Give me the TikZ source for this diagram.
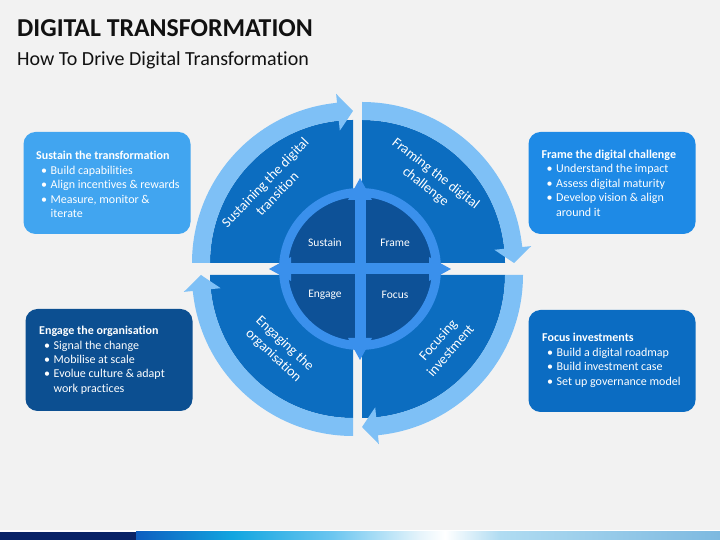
\documentclass[tikz,border=0pt]{standalone}
\usepackage{fontspec}
\setmainfont{Carlito}[Ligatures=NoCommon]
\usetikzlibrary{calc}
\definecolor{bg}{HTML}{F2F2F2}
\definecolor{secdark}{HTML}{0C6DC0}
\definecolor{bandlight}{HTML}{7EC0F6}
\definecolor{innernavy}{HTML}{0D5197}
\definecolor{ringblue}{HTML}{3A90EC}
\definecolor{tlcol}{HTML}{41A5F0}
\definecolor{trcol}{HTML}{1E8AE6}
\definecolor{blcol}{HTML}{0C4F91}
\definecolor{brcol}{HTML}{0B6CC2}
\definecolor{titlecol}{HTML}{111111}
\definecolor{barnavy}{HTML}{0A2468}
\newcommand\bul{\hspace*{5pt}\makebox[9.5pt][l]{\textbullet}}
\newcommand\ind{\hspace*{14.5pt}}
\begin{document}
\begin{tikzpicture}[x=1pt,y=1pt,
  infobox/.style={rounded corners=12pt, inner sep=0pt, minimum width=167pt, minimum height=102pt},
  boxtxt/.style={anchor=base west, inner sep=0pt, text=white, font=\fontsize{12}{14}\selectfont},
  arclabel/.style={align=center, inner sep=0pt, text=white, font=\fontsize{14}{16.5}\selectfont},
  innerlabel/.style={inner sep=0pt, text=white, font=\fontsize{11.5}{14}\selectfont}]
\fill[bg] (0,0) rectangle (720,540);
\useasboundingbox (0,0) rectangle (720,540);

% titles
\node[anchor=base west, inner sep=0pt, text=titlecol, font=\bfseries\fontsize{25.8}{30}\selectfont] (title) at (17,503) {DIGITAL TRANSFORMATION};
\node[anchor=base west, inner sep=0pt, text=titlecol, font=\fontsize{20}{24}\selectfont] (subtitle) at (17,474) {How To Drive Digital Transformation};

% corners
\coordinate (C1) at (353,277);
\coordinate (C2) at (362,277);
\coordinate (C3) at (353,265);
\coordinate (C4) at (362,265);
\coordinate (O) at (360,271);

% quarter sectors
\fill[secdark] (C1) -- ++(180:143) arc[start angle=180, end angle=90, radius=143] -- cycle;
\fill[secdark] (C2) -- ++(90:143) arc[start angle=90, end angle=0, radius=143] -- cycle;
\fill[secdark] (C4) -- ++(0:143) arc[start angle=0, end angle=-90, radius=143] -- cycle;
\fill[secdark] (C3) -- ++(-90:143) arc[start angle=-90, end angle=-180, radius=143] -- cycle;

% curved arrows
\foreach \c/\s in {C1/180, C2/90, C4/0, C3/-90} {
  \pgfmathsetmacro\e{\s-90}
  \pgfmathsetmacro\b{\s-84.3}
  \fill[bandlight] ($(\c)+(\s:161)$) arc[start angle=\s, end angle=\b, radius=161]
    -- ($(\c)+(\b:170)$) -- ($(\c)+(\e:152)$) -- ($(\c)+(\b:133)$)
    -- ($(\c)+(\b:143)$) arc[start angle=\b, end angle=\s, radius=143] -- cycle;
}

% inner circle
\fill[innernavy] (O) circle[radius=76];
\draw[ringblue, line width=9pt] (O) circle[radius=76.5];
\fill[ringblue] ($(O)+(-80,-5.5)$) rectangle ($(O)+(80,5.5)$);
\fill[ringblue] ($(O)+(-5.5,-80)$) rectangle ($(O)+(5.5,80)$);
\foreach \a in {0,90,180,270} {
  \pgfmathsetmacro\pa{\a+90}
  \pgfmathsetmacro\ma{\a-90}
  \fill[ringblue] ($(O)+(\a:91)$) -- ($(O)+(\a:69)+(\pa:12)$) -- ($(O)+(\a:69)+(\ma:12)$) -- cycle;
}

% inner labels
\node[innerlabel] (sustain) at (325,297) {Sustain};
\node[innerlabel] (frame) at (395,297) {Frame};
\node[innerlabel] (engage) at (325,245) {Engage};
\node[innerlabel] (focus) at (395,245) {Focus};

% arc labels
\node[arclabel, rotate=46] (lsus) at (271,352) {Sustaining the digital\\transition};
\node[arclabel, rotate=-38] (lfra) at (430.5,359.5) {Framing the digital\\challenge};
\node[arclabel, rotate=-43] (leng) at (279,190) {Engaging the\\organisation};
\node[arclabel, rotate=49] (lfoc) at (444,195) {Focusing\\investment};

% info boxes
\node[infobox, fill=tlcol] (tlbox) at (107,357) {};
\node[infobox, fill=trcol] (trbox) at (612,357) {};
\node[infobox, fill=blcol] (blbox) at (109,180) {};
\node[infobox, fill=brcol] (brbox) at (612,179) {};

\foreach \t [count=\i from 0] in {\textbf{Sustain the transformation}, \bul Build capabilities, \bul Align incentives \& rewards, {\bul Measure, monitor \&}, \ind iterate}
  \node[boxtxt] (tl\i) at (36,380-14.5*\i) {\t};
\foreach \t [count=\i from 0] in {\textbf{Frame the digital challenge}, \bul Understand the impact, \bul Assess digital maturity, \bul Develop vision \& align, \ind around it}
  \node[boxtxt] (tr\i) at (541.5,381.5-14.5*\i) {\t};
\foreach \t [count=\i from 0] in {\textbf{Engage the organisation}, \bul Signal the change, \bul Mobilise at scale, \bul Evolue culture \& adapt, \ind work practices}
  \node[boxtxt] (bl\i) at (39,205-14.3*\i) {\t};
\foreach \t [count=\i from 0] in {\textbf{Focus investments}, \bul Build a digital roadmap, \bul Build investment case, \bul Set up governance model}
  \node[boxtxt] (br\i) at (542,198.3-14.5*\i) {\t};

% bottom bar
\fill[white] (0,8) rectangle (720,9.5);
\fill[barnavy] (0,0) rectangle (136,8);
\shade[left color={rgb,255:red,14;green,94;blue,192}, right color={rgb,255:red,18;green,166;blue,224}] (136,0) rectangle (233,8);
\shade[left color={rgb,255:red,18;green,166;blue,224}, right color={rgb,255:red,108;green,198;blue,240}] (233,0) rectangle (333,8);
\shade[left color={rgb,255:red,108;green,198;blue,240}, right color={rgb,255:red,230;green,244;blue,251}] (333,0) rectangle (420,8);
\shade[left color={rgb,255:red,230;green,244;blue,251}, right color=white] (420,0) rectangle (445,8);
\shade[left color=white, right color={rgb,255:red,176;green,220;blue,242}] (445,0) rectangle (500,8);
\shade[left color={rgb,255:red,176;green,220;blue,242}, right color={rgb,255:red,125;green,185;blue,224}] (500,0) rectangle (720,8);
\end{tikzpicture}
\end{document}
